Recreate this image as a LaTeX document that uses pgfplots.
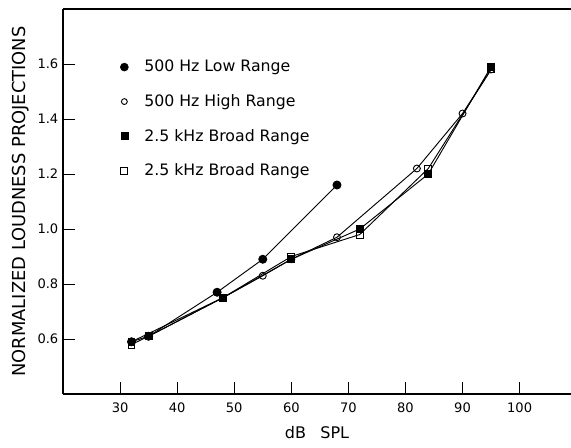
\documentclass[border=0pt]{standalone}
\usepackage{pgfplots}
\pgfplotsset{compat=1.18}
\usepackage{fontspec}
\setmainfont{DejaVu Sans}
\begin{document}
\begin{tikzpicture}
\begin{axis}[
  scale only axis, width=381pt, height=288.75pt,
  xmin=20, xmax=109, ymin=0.4, ymax=1.8,
  axis x line*=bottom, axis y line*=left,
  xtick={30,40,50,60,70,80,90,100},
  ytick={0.6,0.8,1.0,1.2,1.4,1.6},
  tick align=inside, major tick length=9pt,
  yticklabel style={/pgf/number format/.cd, fixed, fixed zerofill, precision=1},
  /pgf/number format/assume math mode=true,
  tick label style={font=\fontsize{9.8}{11}\selectfont},
  xticklabel style={yshift=-3pt},
  axis line style={line width=0.9pt},
  tick style={line width=0.7pt, black},
  xlabel={dB\hspace{0.9em}SPL},
  ylabel={NORMALIZED LOUDNESS PROJECTIONS},
  every axis x label/.style={at={([yshift=-29pt]rel axis cs:0.5,0)}, anchor=center, font=\fontsize{12}{14}\selectfont},
  every axis y label/.style={at={([xshift=-32pt]rel axis cs:0,0.5)}, anchor=center, rotate=90, font=\fontsize{13.4}{15}\selectfont},
  legend style={draw=none, fill=none, at={(axis cs:29.3,1.634)}, anchor=north west, row sep=11.5pt,
    font=\fontsize{11.8}{13}\selectfont,
    /tikz/every odd column/.append style={column sep=10pt}},
  legend cell align=left,
]
\addlegendimage{only marks, mark=*, mark size=3pt, black}
\addlegendentry{500 Hz Low Range}
\addlegendimage{only marks, mark=o, mark size=2.2pt, black, line width=0.7pt}
\addlegendentry{500 Hz High Range}
\addlegendimage{only marks, mark=square*, mark size=2.6pt, black}
\addlegendentry{2.5 kHz Broad Range}
\addlegendimage{only marks, mark=square, mark size=2.6pt, black, line width=0.7pt}
\addlegendentry{2.5 kHz Broad Range}

\addplot[black, line width=0.7pt, mark=square, mark size=2.6pt, mark options={fill=white}, forget plot] coordinates {
  (32,0.58) (35,0.61) (48,0.75) (60,0.90) (72,0.98) (84,1.22) (95,1.58)};
\addplot[black, line width=0.7pt, mark=square*, mark size=2.6pt, forget plot] coordinates {
  (32,0.59) (48,0.75) (60,0.89) (72,1.00) (84,1.20) (95,1.59)};
\addplot[black, line width=0.7pt, mark=o, mark size=2.6pt, mark options={fill=white}, forget plot] coordinates {
  (35,0.61) (48,0.75) (55,0.83) (60,0.89) (68,0.97) (82,1.22) (90,1.42) (95,1.58)};
\addplot[black, line width=0.7pt, mark=*, mark size=3pt, forget plot] coordinates {
  (32,0.59) (35,0.61) (47,0.77) (55,0.89) (68,1.16)};

\draw[line width=0.9pt] (rel axis cs:0,1) -- (rel axis cs:1,1);
\coordinate (bl) at (rel axis cs:0,0);
\coordinate (tr) at (rel axis cs:1,1);
\end{axis}
\pgfresetboundingbox
\useasboundingbox ([shift={(-47.25pt,-39.75pt)}]bl) rectangle ([shift={(0pt,6.75pt)}]tr);
\end{tikzpicture}
\end{document}
